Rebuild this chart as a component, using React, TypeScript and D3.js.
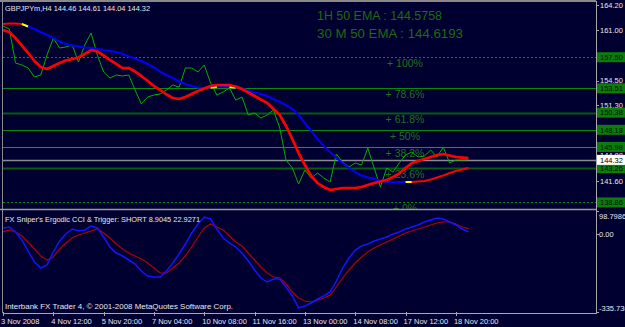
import React from 'react';
import * as d3 from 'd3';

const W = 625;
const H = 327;

// ---- data (H4 bars, 3 Nov 2008 04:00 .. 19 Nov 2008 08:00) ----
const closes = [
  161.50, 161.12, 156.75, 156.50, 156.11, 154.96, 155.21, 157.78, 159.96, 158.68,
  158.81, 159.07, 156.88, 159.07, 160.61, 157.78, 155.60, 154.83, 155.21, 155.09,
  155.21, 153.29, 151.49, 152.39, 152.65, 152.78, 153.29, 153.93, 153.67, 156.11,
  156.11, 155.60, 156.50, 154.19, 152.65, 153.03, 153.55, 152.00, 152.39, 150.08,
  150.34, 149.69, 150.08, 150.72, 148.41, 144.30, 143.28, 141.22, 143.02, 141.99,
  142.63, 141.99, 141.48, 145.07, 144.05, 143.41, 143.92, 143.66, 145.84, 143.28,
  140.84, 143.28, 142.76, 143.92, 144.94, 145.33, 144.69, 144.82, 145.59, 144.69,
  145.97, 143.92, 144.30, 144.30, 144.32,
];
const fastMA = [
  160.99, 160.73, 159.96, 159.00, 158.04, 157.01, 156.24, 155.98, 156.37, 156.75,
  157.08, 157.27, 157.46, 157.91, 158.42, 158.23, 157.72, 157.14, 156.63, 156.11,
  156.11, 155.66, 155.09, 154.44, 153.80, 153.29, 152.71, 152.26, 152.13, 152.39,
  152.77, 153.16, 153.48, 153.80, 153.93, 153.93, 153.93, 153.74, 153.42, 152.97,
  152.52, 152.07, 151.62, 150.85, 150.08, 148.67, 147.00, 145.20, 143.66, 142.25,
  141.35, 140.84, 140.45, 140.58, 140.71, 140.71, 140.71, 140.84, 141.10, 141.35,
  141.54, 141.73, 142.12, 142.57, 143.28, 143.92, 144.17, 144.43, 144.69, 144.94,
  145.07, 144.88, 144.69, 144.62, 144.56,
];
const slowMA = [
  161.76, 161.83, 161.83, 161.76, 161.44, 161.12, 160.73, 160.35, 159.96, 159.51,
  159.19, 159.00, 158.87, 158.74, 158.68, 158.55, 158.42, 158.29, 158.16, 157.91,
  157.58, 157.33, 157.01, 156.62, 156.18, 155.66, 155.21, 154.83, 154.38, 154.06,
  153.80, 153.61, 153.55, 153.61, 153.67, 153.67, 153.67, 153.61, 153.48, 153.22,
  152.97, 152.78, 152.52, 152.13, 151.75, 151.36, 150.85, 150.08, 149.05, 148.03,
  147.00, 146.10, 145.33, 144.56, 143.92, 143.28, 142.76, 142.31, 142.06, 141.86,
  141.67, 141.48, 141.48, 141.48, 141.48, 141.48, 141.54, 141.61, 141.80, 142.06,
  142.31, 142.63, 142.89, 143.08, 143.28,
];
const slowRuns = [
  { from: 0, to: 3, trend: 'up' },
  { from: 3, to: 4, trend: 'flat' },
  { from: 4, to: 33, trend: 'down' },
  { from: 33, to: 34, trend: 'flat' },
  { from: 34, to: 36, trend: 'down' },
  { from: 36, to: 37, trend: 'flat' },
  { from: 37, to: 64, trend: 'down' },
  { from: 64, to: 65, trend: 'flat' },
  { from: 65, to: 74, trend: 'up' },
];
const cciMain = [
  25.7, 30.0, 8.5, -26.0, -73.3, -120.6, -146.4, -133.5, -77.6, -30.3,
  -0.2, 21.4, 12.8, 17.1, 34.3, 25.7, -13.1, -56.1, -81.9, -94.8,
  -112.0, -129.2, -159.3, -180.9, -185.2, -185.2, -159.3, -124.9, -86.2, -43.2,
  4.2, 42.9, 73.0, 64.4, 21.4, -17.4, -38.9, -56.1, -81.9, -116.3,
  -155.0, -189.5, -206.7, -193.8, -193.8, -228.2, -266.9, -318.2, -309.9, -297.0,
  -279.8, -266.9, -249.7, -202.4, -146.4, -103.4, -69.0, -51.8, -43.2, -30.3,
  -21.7, -13.1, -0.2, 8.5, 21.4, 30.0, 38.6, 51.5, 60.1, 68.7,
  64.4, 51.5, 38.6, 21.4, 8.9045,
];
const cciTrigger = [
  8.5, 17.1, 8.5, -8.8, -34.6, -64.7, -94.8, -112.0, -99.1, -64.7,
  -38.9, -17.4, -4.5, 4.2, 12.8, 21.4, 4.2, -17.4, -43.2, -64.7,
  -81.9, -94.8, -107.7, -124.9, -146.4, -167.9, -167.9, -146.4, -124.9, -94.8,
  -56.1, -13.1, 25.7, 42.9, 30.0, 17.1, -8.8, -34.6, -51.8, -81.9,
  -112.0, -142.1, -167.9, -185.2, -189.5, -215.3, -249.7, -275.5, -288.4, -292.7,
  -284.1, -275.5, -262.6, -228.2, -189.5, -155.0, -124.9, -99.1, -77.6, -60.4,
  -47.5, -34.6, -21.7, -8.8, 4.2, 12.8, 21.4, 30.0, 38.6, 47.2,
  51.5, 51.5, 42.9, 30.0, 22.9271,
];
const dateLabels = [
  '3 Nov 2008', '4 Nov 12:00', '5 Nov 20:00', '7 Nov 04:00', '10 Nov 08:00',
  '11 Nov 16:00', '13 Nov 00:00', '14 Nov 08:00', '17 Nov 12:00', '18 Nov 20:00',
];
const dateLabelStep = 8;
const priceTicks = [164.20, 161.00, 157.80, 154.50, 151.30, 148.08, 144.88, 141.60, 138.40];
const fibPrices = [138.86, 143.26, 145.98, 148.18, 150.38, 153.51, 157.50];
const fibNames = ['0%', '23.6%', '38.2%', '50%', '61.8%', '78.6%', '100%'];
const lastPrice = 144.32;
const priceDomain = [138.40, 164.20];
const cciDomain = [-335.736, 98.7986];
const cciTicks = [98.7986, 0, -335.736];
const headerText = 'GBPJPYm,H4  144.46 144.61 144.04 144.32';
const emaTexts = ['1H 50 EMA : 144.5758', '30 M 50 EMA : 144.6193'];
const indicatorText = "FX Sniper's Ergodic CCI & Trigger: SHORT 8.9045 22.9271";
const copyrightText = 'Interbank FX Trader 4, \u00A9 2001-2008 MetaQuotes Software Corp.';

// ---- layout ----
const BG = '#000030';
const AXIS = '#a8a8a8';
const FONT = "'Liberation Sans', Arial, sans-serif";
const plotLeft = 3;
const plotRight = 596;
const barStep = 6.29;
const mainTop = 2;
const mainBottom = 209;
const indTop = 211;
const indBottom = 312;

const trendColor: Record<string, string> = { up: '#ff0000', down: '#0000ff', flat: '#ffff00' };
const fibStyle = [
  { stroke: '#0a8a0a', width: 1, dash: '2,2' },
  { stroke: '#0b5a0b', width: 2, dash: '' },
  { stroke: '#10a010', width: 1, dash: '' },
  { stroke: '#0a8a0a', width: 1, dash: '' },
  { stroke: '#0b5a0b', width: 2, dash: '' },
  { stroke: '#0a8a0a', width: 1, dash: '' },
  { stroke: '#0a8a0a', width: 1, dash: '2,2' },
];

export default function App() {
  const x = d3.scaleLinear().domain([0, closes.length - 1]).range([plotLeft, plotLeft + (closes.length - 1) * barStep]);
  const y = d3.scaleLinear().domain(priceDomain).range([206, 5]);
  const yi = d3.scaleLinear().domain(cciDomain).range([indBottom, indTop]);

  const priceLine = (arr: number[], from = 0) =>
    d3.line<number>().x((_, i) => x(i + from)).y((d) => y(d))(arr) || '';
  const indLine = (arr: number[]) =>
    d3.line<number>().x((_, i) => x(i)).y((d) => yi(d))(arr) || '';

  const small = { fontFamily: FONT, fontSize: 7.5 } as const;
  // tick labels completely hidden behind a price box are not drawn
  const boxed = [...fibPrices, lastPrice];
  const visibleTicks = priceTicks.filter((p) => !boxed.some((b) => Math.abs(y(b) - y(p)) < 4));

  return (
    <svg width={W} height={H} style={{ position: 'absolute', left: 0, top: 0, display: 'block' }}>
      <defs>
        <clipPath id="mainClip">
          <rect x={plotLeft} y={mainTop} width={plotRight - plotLeft} height={mainBottom - mainTop} />
        </clipPath>
        <clipPath id="indClip">
          <rect x={plotLeft} y={indTop - 1} width={plotRight - plotLeft} height={indBottom - indTop + 2} />
        </clipPath>
        <clipPath id="axisClip">
          <rect x={plotRight} y={0} width={W - plotRight} height={mainBottom} />
        </clipPath>
      </defs>
      <rect x={0} y={0} width={W} height={H} fill={BG} />

      {/* main panel */}
      <g clipPath="url(#mainClip)">
        {fibPrices.map((p, i) => (
          <line key={'f' + i} x1={plotLeft} x2={plotRight} y1={Math.round(y(p)) + 0.5} y2={Math.round(y(p)) + 0.5}
            stroke={fibStyle[i].stroke} strokeWidth={fibStyle[i].width} strokeDasharray={fibStyle[i].dash || undefined} />
        ))}
        <line x1={plotLeft} x2={plotRight} y1={Math.round(y(lastPrice)) + 0.5} y2={Math.round(y(lastPrice)) + 0.5}
          stroke="#8c8c8c" strokeWidth={1.5} />
        {fibPrices.map((p, i) => (
          <text key={'fl' + i} x={405} y={y(p) + 10} textAnchor="middle" fill="#247019"
            style={{ fontFamily: FONT, fontSize: 10.5 }}>
            {'+ ' + fibNames[i]}
          </text>
        ))}
        {emaTexts.map((t, i) => (
          <text key={'e' + i} x={317} y={19.5 + i * 18} fill="#1d6b12" textLength={i === 0 ? 125 : 146}
            lengthAdjust="spacingAndGlyphs" style={{ fontFamily: FONT, fontSize: 12.5 }}>
            {t}
          </text>
        ))}
        <path d={priceLine(closes)} fill="none" stroke="#00b000" strokeWidth={1} />
        {slowRuns.map((r, i) => (
          <path key={'s' + i} d={priceLine(slowMA.slice(r.from, r.to + 1), r.from)} fill="none"
            stroke={trendColor[r.trend]} strokeWidth={2} />
        ))}
        <path d={priceLine(fastMA)} fill="none" stroke="#ff0000" strokeWidth={2.7} strokeLinejoin="round" />
        <text x={5} y={11} fill="#e8e8e8" textLength={145} lengthAdjust="spacingAndGlyphs" style={small}>
          {headerText}
        </text>
      </g>

      {/* right price axis */}
      <g clipPath="url(#axisClip)">
        {visibleTicks.map((p, i) => (
          <g key={'pt' + i}>
            <line x1={plotRight} x2={plotRight + 3} y1={Math.round(y(p)) + 0.5} y2={Math.round(y(p)) + 0.5} stroke={AXIS} />
            <text x={600} y={y(p) + 2.7} fill="#e8e8e8" style={small}>{p.toFixed(2)}</text>
          </g>
        ))}
        {fibPrices.map((p, i) => (
          <g key={'pb' + i}>
            <rect x={597} y={y(p) - 5} width={28} height={10} fill="#0c7c0c" />
            <text x={600} y={y(p) + 2.7} fill="#001400" style={small}>{p.toFixed(2)}</text>
          </g>
        ))}
        <rect x={597} y={y(lastPrice) - 5} width={28} height={10} fill="#ffffff" />
        <text x={600} y={y(lastPrice) + 2.7} fill="#000000" style={small}>{lastPrice.toFixed(2)}</text>
      </g>

      {/* indicator panel */}
      <g clipPath="url(#indClip)">
        <path d={indLine(cciTrigger)} fill="none" stroke="#b00000" strokeWidth={1.2} />
        <path d={indLine(cciMain)} fill="none" stroke="#1414ff" strokeWidth={1.5} />
      </g>
      <text x={5} y={222} fill="#e8e8e8" textLength={195} lengthAdjust="spacingAndGlyphs" style={small}>
        {indicatorText}
      </text>
      <text x={5} y={309} fill="#e8e8e8" textLength={228} lengthAdjust="spacingAndGlyphs" style={small}>
        {copyrightText}
      </text>
      {cciTicks.map((v, i) => {
        const ty = i === 0 ? indTop + 5 : i === cciTicks.length - 1 ? indBottom - 4 : yi(v);
        return (
          <g key={'ct' + i}>
            <line x1={plotRight} x2={plotRight + 3} y1={Math.round(yi(v)) + 0.5} y2={Math.round(yi(v)) + 0.5} stroke={AXIS} />
            <text x={599} y={ty + 2.7} fill="#e8e8e8" style={small}>
              {i === 1 ? v.toFixed(2) : String(v)}
            </text>
          </g>
        );
      })}

      {/* frame */}
      <line x1={0} x2={plotRight} y1={1} y2={1} stroke="#8a8a8a" strokeWidth={2} />
      <line x1={2.5} x2={2.5} y1={1} y2={indBottom + 1} stroke="#8a8a8a" strokeWidth={1} />
      <line x1={0} x2={plotRight} y1={209.5} y2={209.5} stroke="#9a9a9a" strokeWidth={1.5} />
      <line x1={plotRight + 0.5} x2={plotRight + 0.5} y1={1} y2={indBottom + 2} stroke={AXIS} strokeWidth={1} />
      <line x1={plotLeft} x2={plotRight + 1} y1={indBottom + 1.5} y2={indBottom + 1.5} stroke={AXIS} strokeWidth={1} />

      {/* time axis */}
      {dateLabels.map((t, k) => {
        const tx = x(k * dateLabelStep);
        return (
          <g key={'d' + k}>
            <line x1={Math.round(tx) + 0.5} x2={Math.round(tx) + 0.5} y1={indBottom} y2={indBottom + 4} stroke={AXIS} />
            <text x={tx - 2} y={324} fill="#e8e8e8" style={small}>{t}</text>
          </g>
        );
      })}
    </svg>
  );
}
